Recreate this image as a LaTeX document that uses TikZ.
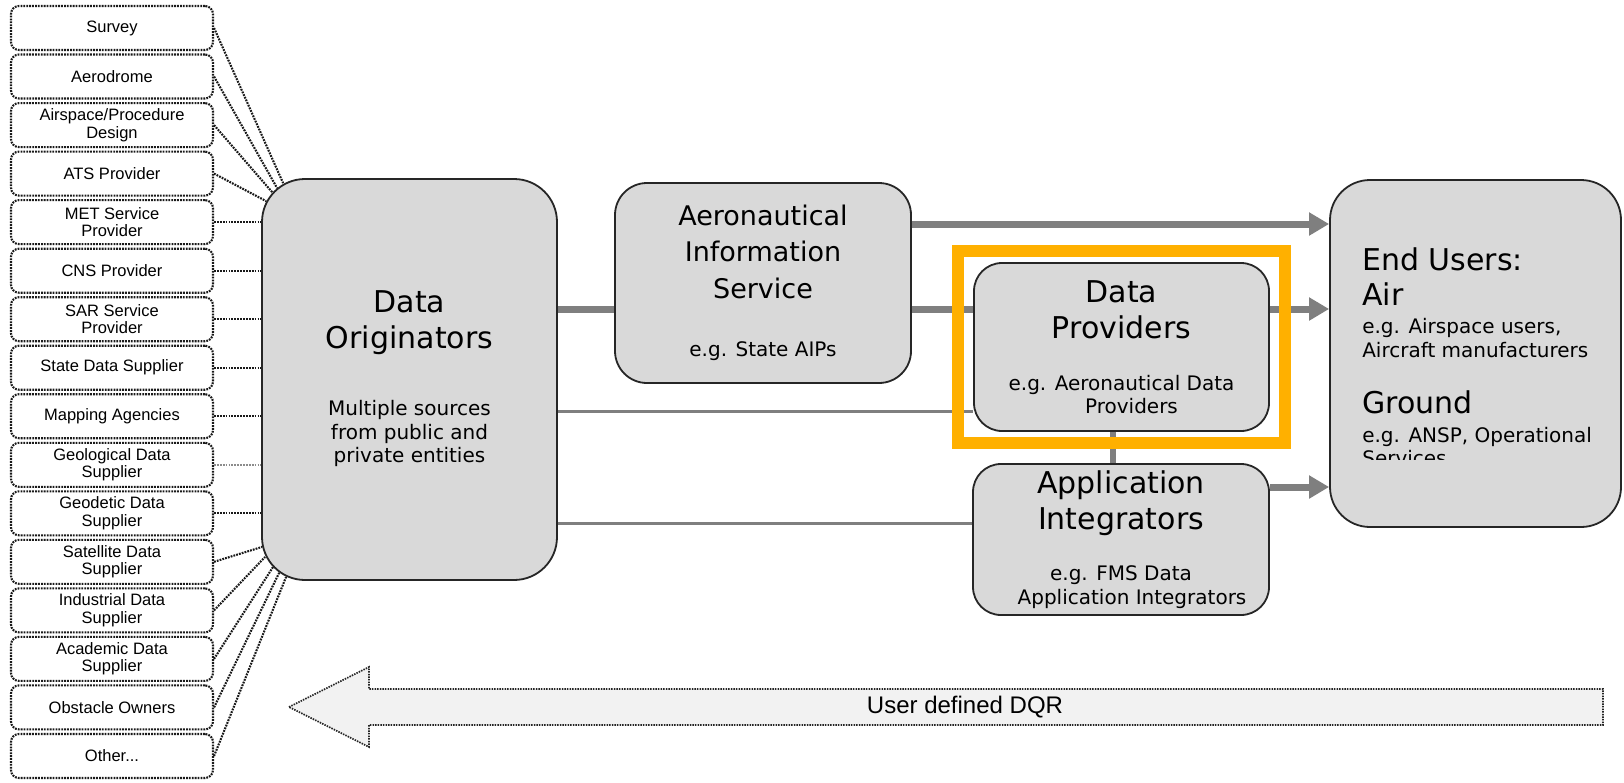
\documentclass[tikz,border=0pt]{standalone}
\usepackage{fontspec}
\setmainfont{DejaVu Sans}
\newfontfamily\arialfont{Liberation Sans}
\usetikzlibrary{arrows.meta,fit}

\definecolor{boxgray}{HTML}{D9D9D9}
\definecolor{linkgray}{HTML}{7F7F7F}
\definecolor{hiorange}{HTML}{FFB000}
\definecolor{dqrfill}{HTML}{F2F2F2}

\newcommand{\bigtxt}{\fontsize{30}{36}\selectfont}
\newcommand{\midtxt}{\fontsize{27}{36.5}\selectfont}
\newcommand{\smalltxt}{\fontsize{20}{24}\selectfont}

\tikzset{
  srcbox/.style={draw=black!90, line width=2.1pt, dash pattern=on 1.8pt off 1.1pt,
    rounded corners=8pt, minimum width=202pt, minimum height=44pt, inner sep=0pt,
    align=center, font=\arialfont\fontsize{16.5}{17.5}\selectfont},
  mainbox/.style={draw=black!85, line width=1.8pt, fill=boxgray, align=center,
    inner sep=0pt, font=\bigtxt},
  dotlink/.style={black!90, line width=2.1pt, dash pattern=on 1.8pt off 1.1pt},
  thicklink/.style={linkgray, line width=7pt},
  thinlink/.style={linkgray, line width=3pt},
  arrowlink/.style={thicklink, -{Triangle[length=20pt,width=22pt]}},
  hilite/.style={draw=hiorange, line width=12pt},
  dqrarrow/.style={draw=black!85, fill=dqrfill, line width=1.7pt, dash pattern=on 1.5pt off 1.1pt},
}

\begin{document}
\begin{tikzpicture}[x=1pt,y=-1pt]
  \useasboundingbox (0,0) rectangle (1624,782);

  % Data sources
  \node[srcbox] (survey) at (112,28) {Survey};
  \node[srcbox] (aerodrome) at (112,76.5) {Aerodrome};
  \node[srcbox] (airspace) at (112,125.1) {Airspace/Procedure\\Design};
  \node[srcbox] (ats) at (112,173.6) {ATS Provider};
  \node[srcbox] (met) at (112,222.1) {MET Service\\Provider};
  \node[srcbox] (cns) at (112,270.7) {CNS Provider};
  \node[srcbox] (sar) at (112,319.2) {SAR Service\\Provider};
  \node[srcbox] (state) at (112,367.7) {State Data Supplier};
  \node[srcbox] (mapping) at (112,416.2) {Mapping Agencies};
  \node[srcbox] (geol) at (112,464.8) {Geological Data\\Supplier};
  \node[srcbox] (geod) at (112,513.3) {Geodetic Data\\Supplier};
  \node[srcbox] (sat) at (112,561.8) {Satellite Data\\Supplier};
  \node[srcbox] (indus) at (112,610.4) {Industrial Data\\Supplier};
  \node[srcbox] (acad) at (112,658.9) {Academic Data\\Supplier};
  \node[srcbox] (obst) at (112,707.4) {Obstacle Owners};
  \node[srcbox] (other) at (112,756) {Other...};

  % Main boxes
  \node[mainbox, rounded corners=43pt, minimum width=295pt, minimum height=401pt] (do) at (409.5,379.5)
    {Data\\Originators\\[31pt]\smalltxt Multiple sources\\[-12pt]\smalltxt from public and\\[-13pt]\smalltxt private entities\\[-30pt]};
  \node[mainbox, font=\midtxt, rounded corners=32pt, minimum width=296pt, minimum height=200pt] (ais) at (763,283)
    {Aeronautical\\Information\\Service\\[22pt]\smalltxt e.g. State AIPs};
  \node[mainbox, rounded corners=28pt, minimum width=295pt, minimum height=168pt] (dp) at (1121.5,347)
    {Data\\Providers\\[16pt]\smalltxt e.g. Aeronautical Data\\[-13pt]\smalltxt \hspace*{20pt}Providers};
  \node[mainbox, rounded corners=28pt, minimum width=296pt, minimum height=151pt] (ai) at (1121,539.5)
    {Application\\Integrators\\[15pt]\smalltxt e.g. FMS Data\\[-12pt]\smalltxt \hspace*{22pt}Application Integrators};
  \node[mainbox, rounded corners=40pt, minimum width=291pt, minimum height=347pt] (eu) at (1475.5,353.5) {};

  % End users text, cut at the bottom
  \coordinate (cut) at (0,459);
  \begin{scope}
    \clip (eu.north west) rectangle (eu.east |- cut);
    \node[align=left, inner sep=0pt, anchor=north west, font=\bigtxt] (eutxt) at ([shift={(33,68)}]eu.north west)
      {End Users:\\[-1pt]Air\\[-8pt]\smalltxt e.g. Airspace users,\\[-12pt]\smalltxt Aircraft manufacturers\\[20pt]Ground\\[-7pt]\smalltxt e.g. ANSP, Operational\\[-13pt]\smalltxt Services};
  \end{scope}

  % Dotted links to originators
  \draw[dotlink] (survey.east) -- ([shift={(22,5)}]do.north west);
  \draw[dotlink] (aerodrome.east) -- ([shift={(16,10)}]do.north west);
  \draw[dotlink] (airspace.east) -- ([shift={(11,14)}]do.north west);
  \draw[dotlink] (ats.east) -- ([shift={(5,23)}]do.north west);
  \draw[dotlink] (met.east) -- (met.east -| do.west);
  \draw[dotlink] (cns.east) -- (cns.east -| do.west);
  \draw[dotlink] (sar.east) -- (sar.east -| do.west);
  \draw[dotlink] (state.east) -- (state.east -| do.west);
  \draw[dotlink] (mapping.east) -- (mapping.east -| do.west);
  \draw[dotlink, black!45, line width=1.4pt] (geol.east) -- (geol.east -| do.west);
  \draw[dotlink] (geod.east) -- (geod.east -| do.west);
  \draw[dotlink] (sat.east) -- ([shift={(1,-34)}]do.south west);
  \draw[dotlink] (indus.east) -- ([shift={(4,-24)}]do.south west);
  \draw[dotlink] (acad.east) -- ([shift={(12,-14)}]do.south west);
  \draw[dotlink] (obst.east) -- ([shift={(18,-8)}]do.south west);
  \draw[dotlink] (other.east) -- ([shift={(25,-4)}]do.south west);

  % Data flow
  \coordinate (rowa) at (0,224);
  \coordinate (rowb) at (0,309);
  \coordinate (rowc) at (0,411);
  \coordinate (rowd) at (0,487);
  \coordinate (rowe) at (0,523);
  \coordinate (colv) at (1113,0);
  \draw[thicklink] (do.east |- rowb) -- (ais.west |- rowb);
  \draw[thicklink] (ais.east |- rowb) -- (dp.west |- rowb);
  \draw[arrowlink] (ais.east |- rowa) -- (eu.west |- rowa);
  \draw[arrowlink] (dp.east |- rowb) -- (eu.west |- rowb);
  \draw[arrowlink] (ai.east |- rowd) -- (eu.west |- rowd);
  \draw[thinlink] (do.east |- rowc) -- (dp.west |- rowc);
  \draw[thinlink] (do.east |- rowe) -- (ai.west |- rowe);
  \draw[thicklink, line width=6pt] (dp.south -| colv) -- (ai.north -| colv);

  % Highlight
  \node[hilite, fit=(dp), inner xsep=15pt, inner ysep=11pt] (frame) {};

  % User defined DQR
  \draw[dqrarrow] (289,707) -- (369,667) -- (369,689) -- (1603,689) -- (1603,725) -- (369,725) -- (369,747) -- cycle;
  \node[font=\arialfont\fontsize{24}{28}\selectfont, inner sep=0pt] (dqr) at (965,707) {User defined DQR};
\end{tikzpicture}
\end{document}
